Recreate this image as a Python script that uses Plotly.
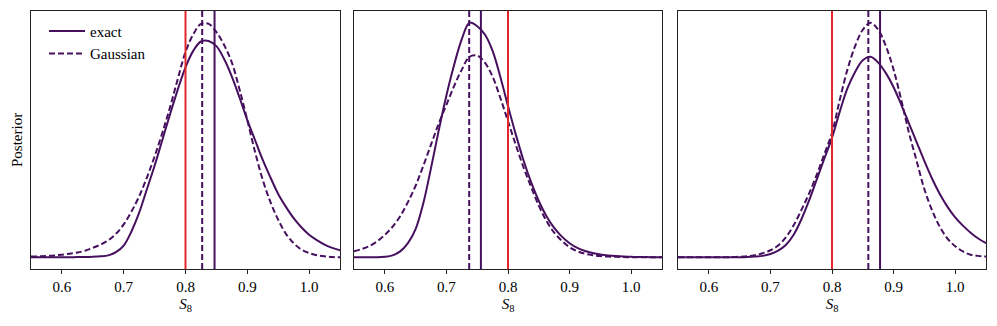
import plotly.graph_objects as go
from plotly.subplots import make_subplots

# S8 grid shared by all panels
s8 = [0.55, 0.5625, 0.575, 0.5875, 0.6, 0.6125, 0.625, 0.6375, 0.65, 0.6625,
      0.675, 0.6875, 0.7, 0.7125, 0.725, 0.7375, 0.75, 0.7625, 0.775, 0.7875,
      0.8, 0.8125, 0.825, 0.8375, 0.85, 0.8625, 0.875, 0.8875, 0.9, 0.9125,
      0.925, 0.9375, 0.95, 0.9625, 0.975, 0.9875, 1.0, 1.0125, 1.025, 1.0375, 1.05]

# panel 1
exact_1 = [0, 0, 0, 0, 0, 0, 0.001, 0.001, 0.002, 0.004,
           0.008, 0.022, 0.05, 0.11, 0.19, 0.29, 0.39, 0.5, 0.61, 0.715,
           0.81, 0.88, 0.92, 0.922, 0.9, 0.845, 0.77, 0.68, 0.585, 0.5,
           0.415, 0.34, 0.27, 0.215, 0.167, 0.128, 0.096, 0.073, 0.054, 0.04, 0.03]
gauss_1 = [0.003, 0.004, 0.006, 0.008, 0.011, 0.015, 0.02, 0.028, 0.04, 0.054,
           0.072, 0.1, 0.14, 0.195, 0.26, 0.34, 0.43, 0.53, 0.64, 0.76,
           0.875, 0.95, 0.995, 0.995, 0.96, 0.905, 0.83, 0.715, 0.585, 0.45,
           0.33, 0.235, 0.16, 0.1, 0.06, 0.033, 0.018, 0.009, 0.004, 0.001, 0]

# panel 2
exact_2 = [0, 0, 0, 0, 0.002, 0.008, 0.025, 0.06, 0.12, 0.23,
           0.38, 0.54, 0.69, 0.82, 0.93, 1.0, 0.985, 0.95, 0.88, 0.77,
           0.645, 0.525, 0.415, 0.32, 0.24, 0.175, 0.125, 0.088, 0.06, 0.04,
           0.027, 0.018, 0.012, 0.008, 0.005, 0.003, 0.002, 0.001, 0.001, 0, 0]
gauss_2 = [0.025, 0.035, 0.048, 0.068, 0.095, 0.13, 0.175, 0.235, 0.305, 0.39,
           0.48, 0.57, 0.65, 0.73, 0.8, 0.855, 0.86, 0.83, 0.77, 0.68,
           0.58, 0.48, 0.385, 0.3, 0.22, 0.155, 0.105, 0.07, 0.043, 0.026,
           0.015, 0.009, 0.005, 0.003, 0.002, 0.001, 0, 0, 0, 0, 0]

# panel 3
exact_3 = [0, 0, 0, 0, 0, 0, 0, 0, 0, 0.001,
           0.003, 0.006, 0.014, 0.028, 0.052, 0.095, 0.16, 0.24, 0.33, 0.42,
           0.51, 0.62, 0.72, 0.79, 0.84, 0.855, 0.83, 0.785, 0.725, 0.65,
           0.57, 0.49, 0.41, 0.335, 0.27, 0.215, 0.17, 0.135, 0.105, 0.08, 0.06]
gauss_3 = [0, 0, 0, 0, 0, 0, 0, 0.001, 0.002, 0.004,
           0.009, 0.017, 0.03, 0.05, 0.085, 0.135, 0.2, 0.27, 0.35, 0.44,
           0.53, 0.67, 0.8, 0.9, 0.97, 1.0, 0.97, 0.9, 0.8, 0.67,
           0.53, 0.41, 0.29, 0.2, 0.13, 0.08, 0.047, 0.025, 0.011, 0.006, 0.003]

mean_exact = [0.847, 0.756, 0.878]
mean_gauss = [0.827, 0.737, 0.859]
s8_true = 0.8

exact = [exact_1, exact_2, exact_3]
gauss = [gauss_1, gauss_2, gauss_3]

purple = "#46105f"
red = "#e3262b"
font = "Liberation Serif, Times New Roman, Times, serif"

fig = make_subplots(rows=1, cols=3)
for i in range(3):
    fig.add_trace(go.Scatter(x=s8, y=exact[i], mode="lines", name="exact",
                             line=dict(color=purple, width=2, shape="spline"),
                             showlegend=(i == 0)), row=1, col=i + 1)
    fig.add_trace(go.Scatter(x=s8, y=gauss[i], mode="lines", name="Gaussian",
                             line=dict(color=purple, width=2, dash="6px,3px", shape="spline"),
                             showlegend=(i == 0)), row=1, col=i + 1)
    fig.add_vline(x=s8_true, line=dict(color=red, width=2), row=1, col=i + 1)
    fig.add_vline(x=mean_gauss[i], line=dict(color=purple, width=2, dash="6px,3px"), row=1, col=i + 1)
    fig.add_vline(x=mean_exact[i], line=dict(color=purple, width=2), row=1, col=i + 1)

domains = [[31 / 997, 340 / 997], [354 / 997, 662 / 997], [678 / 997, 986 / 997]]
for i in range(3):
    fig.update_xaxes(domain=domains[i], range=[0.55, 1.05], tickvals=[0.6, 0.7, 0.8, 0.9, 1.0],
                     ticktext=["0.6", "0.7", "0.8", "0.9", "1.0"], automargin=False,
                     ticks="outside", ticklen=4, tickcolor="#222", showline=True, mirror=True,
                     linecolor="#222", linewidth=1, showgrid=False, zeroline=False,
                     tickfont=dict(family=font, size=15),
                     title=dict(text="<i>S</i><sub>8</sub>", standoff=4, font=dict(family=font, size=15)),
                     row=1, col=i + 1)
    fig.update_yaxes(range=[-0.05, 1.05], showticklabels=False, ticks="", showline=True, mirror=True,
                     linecolor="#222", linewidth=1, showgrid=False, zeroline=False, automargin=False,
                     row=1, col=i + 1)

fig.add_annotation(text="Posterior", xref="paper", yref="paper", x=17 / 997, y=0.5,
                   xanchor="center", yanchor="middle",
                   textangle=-90, showarrow=False, font=dict(size=15, family=font, color="black"))

fig.update_layout(
    width=997, height=326,
    margin=dict(l=0, r=0, t=11, b=57),
    plot_bgcolor="white", paper_bgcolor="white",
    font=dict(family=font, size=15, color="black"),
    legend=dict(x=44 / 997, y=0.985, xanchor="left", yanchor="top", bgcolor="rgba(0,0,0,0)",
                font=dict(family=font, size=15), tracegroupgap=0, itemwidth=36),
)

# page body has a default 8px margin; drop it so the figure sits at the origin
fig.write_html("out.html", config={"displayModeBar": False},
               post_script="document.body.style.margin='0';")
